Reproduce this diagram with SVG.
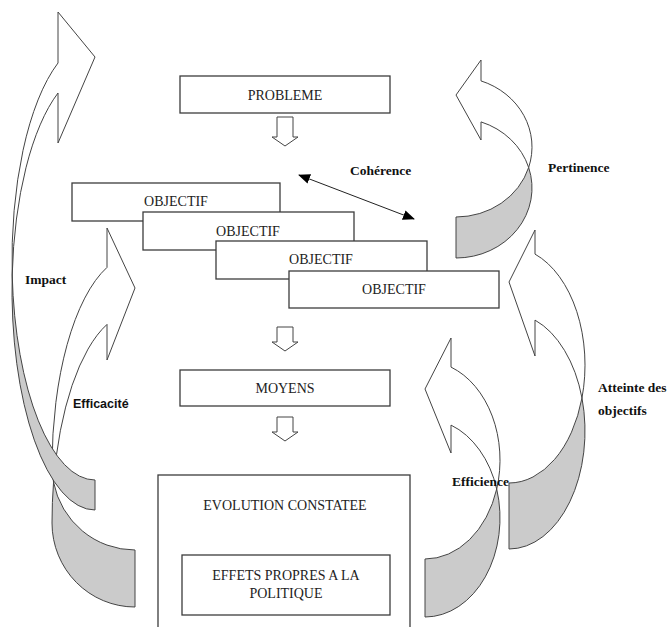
<svg xmlns="http://www.w3.org/2000/svg" width="667" height="627" viewBox="0 0 667 627">
<style>
.box{fill:#fff;stroke:#3c3c3c;stroke-width:1.3}
.t{font-family:"Liberation Serif","Times New Roman",serif;font-size:14px;fill:#222;text-anchor:middle}
.lbl{font-family:"Liberation Serif","Times New Roman",serif;font-weight:bold;font-size:13.5px;fill:#111}
.lbls{font-family:"Liberation Sans",Arial,sans-serif;font-weight:bold;font-size:12.5px;fill:#111}
.front{fill:#fff;stroke:#444;stroke-width:1}
.back{fill:#cbcbcb;stroke:#444;stroke-width:1}
.down{fill:#fff;stroke:#444;stroke-width:1}
</style>
<defs>
<marker id="ah" viewBox="0 0 12 10" refX="11" refY="5" markerWidth="12" markerHeight="10" markerUnits="userSpaceOnUse" orient="auto-start-reverse">
<path d="M0,0 L12,5 L0,10 Z" fill="#000"/>
</marker>
</defs>
<rect width="667" height="627" fill="#fff"/>

<g id="arrow-efficacite">
<path class="back" d="M53.56,482.23 A83,211 0 0 0 52,523 A83,84 0 0 0 135,607 L135,550 A83,84 0 0 1 53.56,482.23 Z"/>
<path class="front" d="M107,267.4 A83,211 0 0 0 52,466 A83,84 0 0 0 53.56,482.23 A83,211 0 0 1 107,324.4 L107,360 L135,288 L107,228 Z"/>
</g>
<g id="arrow-impact">
<path class="back" d="M12.19,275 A83,220 0 0 0 95,510 L95,480 A83,220 0 0 1 12.19,275 Z"/>
<path class="front" d="M58,63 A83,220 0 0 0 12.19,275 A83,220 0 0 1 58,93 L58,143 L95,57 L58,12 Z"/>
</g>
<g id="arrow-pertinence">
<path class="back" d="M528.67,167.5 A76,70 0 0 1 456,258 L456,217 A76,70 0 0 0 528.67,167.5 Z"/>
<path class="front" d="M481,80.9 A76,70 0 0 1 528.67,167.5 A76,70 0 0 0 481,121.9 L481,140 L456,95 L481,60 Z"/>
</g>
<g id="arrow-atteinte">
<path class="back" d="M581.97,398 A76,118 0 0 1 509,549 L509,483 A76,118 0 0 0 581.97,398 Z"/>
<path class="front" d="M535,254.1 A76,118 0 0 1 581.97,398 A76,118 0 0 0 535,320.1 L535,356 L509,282 L535,230 Z"/>
</g>
<g id="arrow-efficience">
<path class="back" d="M496.71,489 A75,99 0 0 1 425,617 L425,559 A75,99 0 0 0 496.71,489 Z"/>
<path class="front" d="M451,367.1 A75,99 0 0 1 496.71,489 A75,99 0 0 0 451,425.1 L451,453 L425,389 L451,338 Z"/>
</g>

<g id="connectors">
<path class="down" d="M277,117 H293 V137 H298 L285,146 L272,137 H277 Z"/>
<path class="down" d="M277,327 H293 V342 H298 L285,351 L272,342 H277 Z"/>
<path class="down" d="M277,417 H293 V432 H298 L285,441 L272,432 H277 Z"/>
<line x1="299" y1="175" x2="414" y2="219" stroke="#222" stroke-width="1" marker-start="url(#ah)" marker-end="url(#ah)"/>
</g>

<g id="probleme"><rect class="box" x="180" y="76" width="210" height="37"/><text class="t" x="285" y="100">PROBLEME</text></g>
<g id="objectif1"><rect class="box" x="72" y="183" width="208" height="38"/><text class="t" x="176" y="206">OBJECTIF</text></g>
<g id="objectif2"><rect class="box" x="143" y="212" width="211" height="38"/><text class="t" x="248" y="236">OBJECTIF</text></g>
<g id="objectif3"><rect class="box" x="216" y="241" width="211" height="38"/><text class="t" x="321" y="264">OBJECTIF</text></g>
<g id="objectif4"><rect class="box" x="289" y="271" width="210" height="37"/><text class="t" x="394" y="294">OBJECTIF</text></g>
<g id="moyens"><rect class="box" x="180" y="370" width="210" height="36"/><text class="t" x="285" y="393">MOYENS</text></g>
<g id="evolution"><rect class="box" x="158" y="475" width="252" height="170"/><text class="t" x="285" y="510">EVOLUTION CONSTATEE</text></g>
<g id="effets"><rect class="box" x="182" y="555" width="208" height="60"/><text class="t" x="286" y="580">EFFETS PROPRES A LA</text><text class="t" x="286" y="598">POLITIQUE</text></g>

<g id="labels">
<text class="lbl" x="350" y="175">Cohérence</text>
<text class="lbl" x="548" y="172">Pertinence</text>
<text class="lbl" x="25" y="284">Impact</text>
<text class="lbls" x="73" y="408">Efficacité</text>
<text class="lbl" x="452" y="486">Efficience</text>
<text class="lbl" x="598" y="392">Atteinte des</text>
<text class="lbl" x="598" y="415">objectifs</text>
</g>
</svg>
